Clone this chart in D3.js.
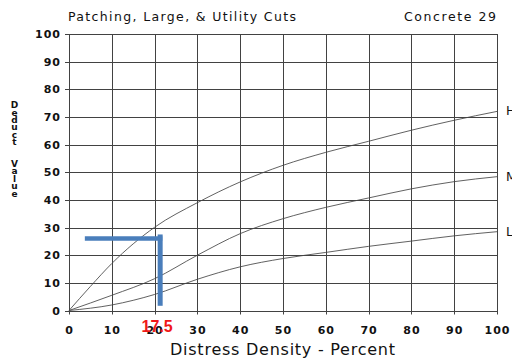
<!DOCTYPE html>
<html>
<head>
<meta charset="utf-8">
<script src="https://cdn.jsdelivr.net/npm/d3@7"></script>
<style>
  body { margin: 0; background: #fff; }
  svg { display: block; }
</style>
</head>
<body>
<svg id="chart" width="512" height="358"></svg>
<script>
// ticks shared by both axes
const ticks = [0, 10, 20, 30, 40, 50, 60, 70, 80, 90, 100];

// deduct value curves [density %, deduct value]
const highCurve = [[0, 0], [5, 8.7], [10, 17], [20, 30.1], [30, 39], [40, 46.5], [50, 52.5],
                   [60, 57.2], [70, 61.2], [80, 65.2], [90, 68.8], [100, 72]];
const mediumCurve = [[0, 0], [10, 5.5], [20, 11.5], [30, 20], [40, 27.8], [50, 33.2],
                     [60, 37.3], [70, 40.7], [80, 44], [90, 46.6], [100, 48.4]];
const lowCurve = [[0, 0], [10, 2], [20, 5.8], [30, 11.3], [40, 15.8], [50, 18.8],
                  [60, 21], [70, 23.2], [80, 25.1], [90, 27], [100, 28.5]];
const curveNames = ["H", "M", "L"];

// the blue reading guide drawn on top, in chart units
const guideLevel = [3.7, 21.8, 26];     // from x, to x, at deduct value
const guideDrop = [21.3, 27.5, 1.7];    // at density, from y, to y
const readValue = "17.5";

const svg = d3.select("#chart");

let x = d3.scaleLinear().domain([0, 100]).range([69, 497]);
let y = d3.scaleLinear().domain([0, 100]).range([310.5, 34]);

// grid
const grid = svg.append("g").attr("stroke", "#222").attr("stroke-width", 1).attr("opacity", 0.85);

grid.selectAll(".h")
    .data(ticks)
    .enter()
    .append("line")
    .attr("x1", x(0) - 4)
    .attr("x2", x(100))
    .attr("y1", d => Math.round(y(d)) + 0.5)
    .attr("y2", d => Math.round(y(d)) + 0.5);

grid.selectAll(".v")
    .data(ticks)
    .enter()
    .append("line")
    .attr("x1", d => Math.round(x(d)) + 0.5)
    .attr("x2", d => Math.round(x(d)) + 0.5)
    .attr("y1", y(100))
    .attr("y2", y(0) + 4);

// tick labels
svg.append("g")
    .selectAll("text")
    .data(ticks)
    .enter()
    .append("text")
    .attr("x", 61)
    .attr("y", d => y(d) + 4)
    .attr("text-anchor", "end")
    .style("font", "bold 11px 'DejaVu Sans'")
    .style("letter-spacing", "1px")
    .attr("fill", "#111")
    .text(d => d);

svg.append("g")
    .selectAll("text")
    .data(ticks)
    .enter()
    .append("text")
    .attr("x", d => x(d) + 0.5)
    .attr("y", 334)
    .attr("text-anchor", "middle")
    .style("font", "bold 11px 'DejaVu Sans'")
    .style("letter-spacing", "1px")
    .attr("fill", "#111")
    .text(d => d);

// curves
let line = d3.line()
    .x(d => x(d[0]))
    .y(d => y(d[1]))
    .curve(d3.curveMonotoneX);

const curves = [highCurve, mediumCurve, lowCurve];

svg.append("g")
    .selectAll("path")
    .data(curves)
    .enter()
    .append("path")
    .attr("d", line)
    .attr("fill", "none")
    .attr("stroke", "#444")
    .attr("stroke-width", 0.85);

svg.append("g")
    .selectAll("text")
    .data(curves)
    .enter()
    .append("text")
    .attr("x", 506)
    .attr("y", d => y(d[d.length - 1][1]) + 0.5)
    .attr("dominant-baseline", "middle")
    .style("font", "12.5px 'DejaVu Sans'")
    .attr("fill", "#111")
    .text((d, i) => curveNames[i]);

// titles
svg.append("text")
    .attr("x", 68)
    .attr("y", 21)
    .attr("textLength", 228)
    .attr("lengthAdjust", "spacing")
    .style("font", "12.5px 'DejaVu Sans'")
    .attr("fill", "#111")
    .text("Patching, Large, & Utility Cuts");

svg.append("text")
    .attr("x", 404)
    .attr("y", 21)
    .attr("textLength", 92)
    .attr("lengthAdjust", "spacing")
    .style("font", "12.5px 'DejaVu Sans'")
    .attr("fill", "#111")
    .text("Concrete 29");

svg.append("text")
    .attr("x", 170)
    .attr("y", 354.5)
    .attr("textLength", 225)
    .attr("lengthAdjust", "spacing")
    .style("font", "16px 'DejaVu Sans'")
    .attr("fill", "#111")
    .text("Distress Density - Percent");

// stacked y title, one letter per row
const yTitle = ["D", "e", "d", "u", "c", "t", "", "", "V", "a", "l", "u", "e"];
svg.append("g")
    .selectAll("text")
    .data(yTitle)
    .enter()
    .append("text")
    .attr("x", 14.5)
    .attr("y", (d, i) => 108.3 + i * 7.35)
    .attr("text-anchor", "middle")
    .style("font", "bold 9px 'DejaVu Sans'")
    .attr("fill", "#111")
    .text(d => d);

// blue guide
const blue = "#4a7ebb";
svg.append("line")
    .attr("x1", x(guideLevel[0]))
    .attr("x2", x(guideLevel[1]))
    .attr("y1", y(guideLevel[2]))
    .attr("y2", y(guideLevel[2]))
    .attr("stroke", blue)
    .attr("stroke-width", 4.5);

svg.append("line")
    .attr("x1", x(guideDrop[0]))
    .attr("x2", x(guideDrop[0]))
    .attr("y1", y(guideDrop[1]))
    .attr("y2", y(guideDrop[2]))
    .attr("stroke", blue)
    .attr("stroke-width", 5);

svg.append("text")
    .attr("x", x(20.6))
    .attr("y", 332)
    .attr("text-anchor", "middle")
    .style("font", "bold 16px 'Liberation Sans'")
    .attr("fill", "#f01818")
    .text(readValue);
</script>
</body>
</html>
